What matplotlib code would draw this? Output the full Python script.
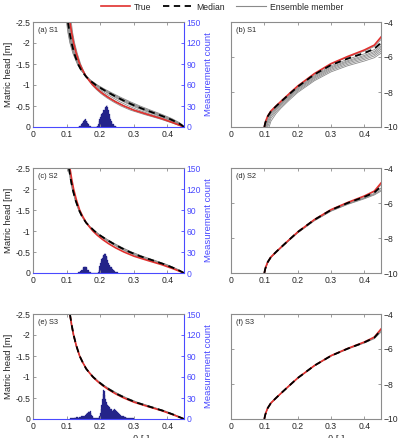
import matplotlib
matplotlib.use("Agg")
import matplotlib.pyplot as plt
from matplotlib.lines import Line2D

plt.rcParams['font.family'] = ['Liberation Sans', 'DejaVu Sans']

# ---------------- data ----------------
H_GRID = [0, -0.05, -0.1, -0.2, -0.3, -0.4, -0.5, -0.6, -0.7, -0.8, -0.9, -1.0,
          -1.1, -1.2, -1.35, -1.5, -1.75, -2.0, -2.25, -2.5]
TRUE_THETA = [0.450, 0.434, 0.418, 0.383, 0.341, 0.301, 0.271, 0.246, 0.225, 0.207, 0.1915, 0.1785,
              0.168, 0.1585, 0.148, 0.139, 0.129, 0.121, 0.115, 0.110]

S1_MED_THETA = [0.450, 0.442, 0.432, 0.405, 0.372, 0.337, 0.305, 0.277, 0.252, 0.229, 0.207, 0.187,
                0.171, 0.158, 0.144, 0.134, 0.123, 0.115, 0.109, 0.104]
S1_ENS_THETA = [
    [0.450, 0.445, 0.437, 0.414, 0.384, 0.351, 0.319, 0.290, 0.263, 0.238, 0.214, 0.192, 0.174, 0.159, 0.143, 0.132, 0.119, 0.110, 0.104, 0.100],
    [0.450, 0.444, 0.435, 0.410, 0.379, 0.345, 0.313, 0.285, 0.259, 0.234, 0.211, 0.190, 0.173, 0.159, 0.144, 0.133, 0.120, 0.111, 0.105, 0.101],
    [0.450, 0.442, 0.432, 0.406, 0.373, 0.339, 0.308, 0.280, 0.254, 0.231, 0.209, 0.189, 0.173, 0.159, 0.144, 0.134, 0.122, 0.113, 0.107, 0.103],
    [0.450, 0.441, 0.430, 0.402, 0.368, 0.333, 0.302, 0.275, 0.250, 0.227, 0.206, 0.187, 0.172, 0.159, 0.145, 0.135, 0.123, 0.114, 0.108, 0.104],
    [0.450, 0.439, 0.427, 0.398, 0.363, 0.327, 0.296, 0.270, 0.245, 0.224, 0.204, 0.186, 0.171, 0.159, 0.146, 0.136, 0.124, 0.116, 0.110, 0.106],
    [0.450, 0.437, 0.423, 0.391, 0.352, 0.315, 0.285, 0.259, 0.237, 0.216, 0.198, 0.182, 0.170, 0.159, 0.147, 0.138, 0.127, 0.118, 0.112, 0.108],
    [0.450, 0.434, 0.418, 0.383, 0.342, 0.303, 0.273, 0.249, 0.228, 0.209, 0.193, 0.179, 0.168, 0.159, 0.149, 0.140, 0.129, 0.121, 0.115, 0.111],
    [0.450, 0.431, 0.413, 0.375, 0.331, 0.291, 0.262, 0.239, 0.219, 0.202, 0.188, 0.176, 0.167, 0.159, 0.150, 0.142, 0.132, 0.124, 0.118, 0.114],
]
S2_MED_THETA = [0.450, 0.438, 0.425, 0.394, 0.357, 0.319, 0.288, 0.262, 0.239, 0.218, 0.199, 0.183,
                0.170, 0.158, 0.146, 0.137, 0.126, 0.118, 0.112, 0.107]
S2_ENS_THETA = [
    [0.450, 0.440, 0.428, 0.399, 0.363, 0.326, 0.294, 0.267, 0.243, 0.221, 0.201, 0.184, 0.170, 0.158, 0.145, 0.136, 0.125, 0.117, 0.111, 0.106],
    [0.450, 0.439, 0.427, 0.397, 0.360, 0.323, 0.291, 0.265, 0.241, 0.220, 0.200, 0.184, 0.170, 0.158, 0.146, 0.136, 0.126, 0.117, 0.111, 0.107],
    [0.450, 0.437, 0.423, 0.391, 0.353, 0.315, 0.285, 0.259, 0.237, 0.216, 0.198, 0.182, 0.169, 0.158, 0.146, 0.137, 0.127, 0.119, 0.113, 0.108],
    [0.450, 0.436, 0.421, 0.388, 0.349, 0.311, 0.281, 0.256, 0.234, 0.214, 0.197, 0.181, 0.169, 0.158, 0.147, 0.138, 0.127, 0.119, 0.113, 0.109],
]
S3_MED_THETA = [0.450, 0.435, 0.420, 0.386, 0.345, 0.305, 0.275, 0.249, 0.228, 0.209, 0.193, 0.179,
                0.168, 0.158, 0.148, 0.139, 0.129, 0.121, 0.115, 0.110]
S3_ENS_THETA = [
    [0.450, 0.436, 0.422, 0.389, 0.349, 0.309, 0.278, 0.252, 0.230, 0.211, 0.194, 0.180, 0.169, 0.159, 0.148, 0.139, 0.128, 0.120, 0.114, 0.109],
    [0.450, 0.434, 0.419, 0.384, 0.343, 0.303, 0.273, 0.248, 0.227, 0.208, 0.192, 0.179, 0.168, 0.158, 0.148, 0.139, 0.129, 0.121, 0.115, 0.110],
    [0.450, 0.437, 0.423, 0.391, 0.351, 0.311, 0.280, 0.254, 0.232, 0.212, 0.195, 0.181, 0.169, 0.159, 0.148, 0.139, 0.128, 0.120, 0.114, 0.109],
]

K_THETA = [0.100, 0.1025, 0.105, 0.110, 0.120, 0.135, 0.150, 0.175, 0.200, 0.250, 0.300, 0.350, 0.400, 0.430, 0.450]
TRUE_K = [-10.00, -9.78, -9.62, -9.38, -9.08, -8.80, -8.53, -8.09, -7.66, -6.95, -6.38, -5.97, -5.60, -5.32, -4.86]

S1_MED_K = [-10.00, -9.79, -9.63, -9.40, -9.10, -8.82, -8.55, -8.12, -7.70, -7.00, -6.46, -6.09, -5.77, -5.53, -5.18]
S1_ENS_K = [
    [-10.00, -9.78, -9.62, -9.38, -9.08, -8.80, -8.53, -8.10, -7.67, -6.97, -6.41, -6.01, -5.66, -5.40, -5.00],
    [-10.10, -9.86, -9.70, -9.45, -9.13, -8.85, -8.58, -8.15, -7.73, -7.04, -6.50, -6.13, -5.82, -5.58, -5.25],
    [-10.30, -10.03, -9.85, -9.57, -9.21, -8.91, -8.64, -8.20, -7.78, -7.10, -6.57, -6.21, -5.91, -5.68, -5.36],
    [-10.55, -10.22, -10.00, -9.68, -9.29, -8.97, -8.69, -8.25, -7.83, -7.16, -6.63, -6.27, -5.98, -5.76, -5.46],
    [-10.85, -10.45, -10.20, -9.82, -9.38, -9.04, -8.75, -8.31, -7.89, -7.22, -6.70, -6.34, -6.06, -5.85, -5.56],
    [-11.20, -10.75, -10.45, -10.00, -9.50, -9.13, -8.83, -8.38, -7.96, -7.29, -6.77, -6.42, -6.14, -5.94, -5.67],
    [-11.60, -11.10, -10.75, -10.25, -9.66, -9.24, -8.92, -8.46, -8.03, -7.36, -6.85, -6.50, -6.23, -6.04, -5.78],
]
S2_MED_K = [-10.00, -9.78, -9.62, -9.38, -9.08, -8.80, -8.53, -8.09, -7.66, -6.96, -6.40, -6.00, -5.65, -5.40, -5.05]
S2_ENS_K = [
    [-10.00, -9.78, -9.62, -9.38, -9.08, -8.80, -8.53, -8.09, -7.66, -6.95, -6.39, -5.98, -5.62, -5.35, -4.97],
    [-10.02, -9.80, -9.64, -9.40, -9.09, -8.81, -8.54, -8.10, -7.68, -6.98, -6.42, -6.03, -5.69, -5.45, -5.15],
    [-10.05, -9.83, -9.66, -9.42, -9.11, -8.83, -8.56, -8.12, -7.70, -7.00, -6.45, -6.06, -5.73, -5.50, -5.25],
    [-10.08, -9.85, -9.68, -9.43, -9.12, -8.84, -8.57, -8.13, -7.71, -7.02, -6.47, -6.08, -5.76, -5.54, -5.32],
]
S3_MED_K = [-10.00, -9.78, -9.62, -9.38, -9.08, -8.80, -8.53, -8.09, -7.66, -6.95, -6.39, -5.98, -5.62, -5.35, -4.92]
S3_ENS_K = [
    [-10.00, -9.78, -9.62, -9.38, -9.08, -8.80, -8.53, -8.09, -7.66, -6.95, -6.38, -5.97, -5.61, -5.33, -4.88],
    [-10.01, -9.79, -9.63, -9.39, -9.09, -8.81, -8.54, -8.10, -7.67, -6.96, -6.40, -5.99, -5.64, -5.38, -4.97],
    [-10.02, -9.80, -9.64, -9.40, -9.09, -8.81, -8.54, -8.10, -7.68, -6.97, -6.41, -6.01, -5.66, -5.41, -5.03],
]

HIST_WIDTH = 0.002
S1_HIST_START = 0.136
S1_HIST = [1, 2, 2, 3, 5, 6, 7, 9, 10, 12, 11, 9, 8, 6, 4, 3, 2, 1,
           0, 0, 0, 0, 0, 0, 0, 0, 0,
           1, 2, 4, 8, 12, 15, 17, 19, 20, 22, 24, 25, 27, 29, 30, 32, 28, 24, 19, 15, 12, 9, 7, 5, 4, 3, 2, 1, 1]
S2_HIST_START = 0.134
S2_HIST = [1, 1, 2, 3, 3, 4, 5, 7, 8, 9, 10, 9, 8, 7, 5, 4, 3, 2, 1,
           0, 0, 0, 0, 0, 0, 0, 0, 0, 0, 0,
           2, 5, 10, 14, 17, 20, 22, 24, 26, 27, 28, 27, 25, 23, 19, 15, 12, 10, 9, 8, 7, 6, 5, 4, 3, 2, 2, 1, 1]
S3_HIST_START = 0.110
S3_HIST = [1, 0, 1, 1, 2, 2, 2, 3, 2, 3, 3, 3, 2, 3, 3, 3, 3, 4, 4, 3, 4, 4, 5, 6, 7, 8, 9, 10, 11, 10,
           12, 9, 6, 4, 3, 2, 2, 1, 1, 1, 1, 1, 2, 3, 5, 9, 14, 20, 28, 36, 42, 40, 34, 28, 24, 21, 20, 19,
           17, 16, 15, 14, 13, 12, 13, 14, 15, 13, 12, 11, 10, 9, 8, 7, 6, 6, 5, 5, 4, 4, 4, 3, 3, 3, 2, 2,
           2, 2, 1, 1, 1, 1, 1, 1, 1]

LEFT_LABELS = ["(a) S1", "(c) S2", "(e) S3"]
RIGHT_LABELS = ["(b) S1", "(d) S2", "(f) S3"]
MED_THETA = [S1_MED_THETA, S2_MED_THETA, S3_MED_THETA]
ENS_THETA = [S1_ENS_THETA, S2_ENS_THETA, S3_ENS_THETA]
MED_K = [S1_MED_K, S2_MED_K, S3_MED_K]
ENS_K = [S1_ENS_K, S2_ENS_K, S3_ENS_K]
HISTS = [(S1_HIST_START, S1_HIST), (S2_HIST_START, S2_HIST), (S3_HIST_START, S3_HIST)]

X_TICKS = [0, 0.1, 0.2, 0.3, 0.4]
X_TICKLABELS = ["0", "0.1", "0.2", "0.3", "0.4"]
H_TICKS = [-2.5, -2, -1.5, -1, -0.5, 0]
H_TICKLABELS = ["-2.5", "-2", "-1.5", "-1", "-0.5", "0"]
COUNT_TICKS = [0, 30, 60, 90, 120, 150]
K_TICKS = [-10, -8, -6, -4]
LEGEND_LABELS = ["True", "Median", "Ensemble member"]

# ---------------- style ----------------
RED = '#e0302e'
GRAY = '#8a8a8a'
SPINE = '#8c8c8c'
TXT = '#262626'
BLUE = '#4a4aff'
NAVY = '#24248a'
FS = 6.2
DASH = (0, (3.5, 2.5))

W, H = 401, 438
fig = plt.figure(figsize=(W / 100, H / 100), dpi=100)

rows_top = [22, 168, 314]
ax_h = 105
left_x, left_w = 33, 151
right_x, right_w = 231, 150


def frac(x, top, w, h):
    return [x / W, 1 - (top + h) / H, w / W, h / H]


def style_axes(ax):
    for s in ax.spines.values():
        s.set_color(SPINE)
        s.set_linewidth(0.8)
    ax.tick_params(direction='in', length=2.5, width=0.6, colors=SPINE,
                   labelcolor=TXT, labelsize=FS, pad=2)


for r in range(3):
    top = rows_top[r]
    # ---------- left panel: retention curve + histogram ----------
    ax = fig.add_axes(frac(left_x, top, left_w, ax_h))
    ax2 = ax.twinx()
    ax.set_zorder(ax2.get_zorder() + 1)
    ax.patch.set_visible(False)

    start, counts = HISTS[r]
    lefts = [start + i * HIST_WIDTH for i in range(len(counts))]
    ax2.bar(lefts, counts, width=HIST_WIDTH, align='edge', color=NAVY,
            edgecolor=NAVY, linewidth=0.2)
    ax2.set_ylim(0, 150)
    ax2.set_yticks(COUNT_TICKS)
    ax2.tick_params(direction='in', length=2.5, width=0.6, colors=BLUE,
                    labelcolor=BLUE, labelsize=FS, pad=2)
    for s in ax2.spines.values():
        s.set_visible(False)
    ax2.set_ylabel("Measurement count", color=BLUE, fontsize=FS + 0.6, labelpad=2)

    for mem in ENS_THETA[r]:
        ax.plot(mem, H_GRID, color=GRAY, lw=0.6)
    ax.plot(TRUE_THETA, H_GRID, color=RED, lw=1.2)
    ax.plot(MED_THETA[r], H_GRID, color='black', lw=1.3, ls=DASH)

    ax.set_xlim(0, 0.45)
    ax.set_ylim(0, -2.5)
    ax.set_xticks(X_TICKS)
    ax.set_xticklabels(X_TICKLABELS)
    ax.set_yticks(H_TICKS)
    ax.set_yticklabels(H_TICKLABELS)
    style_axes(ax)
    ax.tick_params(top=True)
    ax.spines['right'].set_color(BLUE)
    ax.spines['bottom'].set_color(BLUE)
    ax.set_ylabel("Matric head [m]", color=TXT, fontsize=FS + 0.6, labelpad=2)
    ax.text(0.03, 0.95, LEFT_LABELS[r], transform=ax.transAxes, fontsize=FS - 0.9,
            color=TXT, va='top', ha='left')

    # ---------- right panel: conductivity ----------
    bx = fig.add_axes(frac(right_x, top, right_w, ax_h))
    for mem in ENS_K[r]:
        bx.plot(K_THETA, mem, color=GRAY, lw=0.6)
    bx.plot(K_THETA, TRUE_K, color=RED, lw=1.2)
    bx.plot(K_THETA, MED_K[r], color='black', lw=1.3, ls=DASH)
    bx.set_xlim(0, 0.45)
    bx.set_ylim(-10, -4)
    bx.set_xticks(X_TICKS)
    bx.set_xticklabels(X_TICKLABELS)
    bx.set_yticks(K_TICKS)
    style_axes(bx)
    bx.tick_params(top=True, left=True, right=True, labelleft=False, labelright=True)
    bx.text(0.03, 0.95, RIGHT_LABELS[r], transform=bx.transAxes, fontsize=FS - 0.9,
            color=TXT, va='top', ha='left')

# x-labels (cut off at the bottom edge, as in the reference)
fig.text(141 / W, 1 - 434.5 / H, "θ [-]", fontsize=FS + 0.6, color=TXT, ha='center', va='top')
fig.text(336 / W, 1 - 434.5 / H, "θ [-]", fontsize=FS + 0.6, color=TXT, ha='center', va='top')

# legend
handles = [Line2D([], [], color=RED, lw=1.2),
           Line2D([], [], color='black', lw=1.3, ls=DASH),
           Line2D([], [], color=GRAY, lw=0.8)]
fig.legend(handles, LEGEND_LABELS, loc='center',
           bbox_to_anchor=(222 / W, 1 - 7 / H), ncol=3, frameon=False,
           fontsize=FS, handlelength=3.4, columnspacing=1.3, handletextpad=0.5,
           labelcolor=TXT)

fig.savefig("out.png", dpi=100)
